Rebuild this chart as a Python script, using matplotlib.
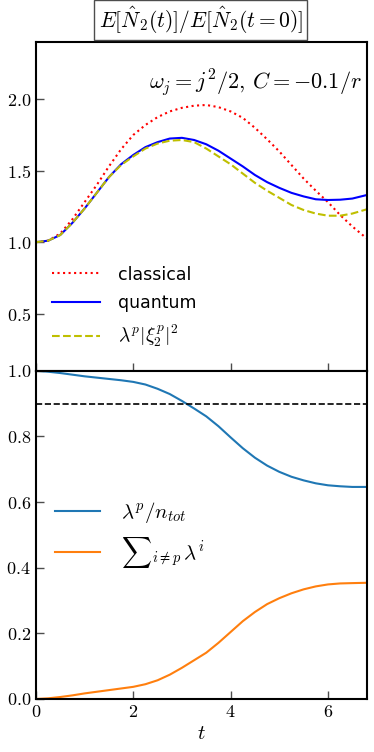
import matplotlib
matplotlib.use('Agg')
import matplotlib.pyplot as plt

plt.rcParams['mathtext.fontset'] = 'cm'
plt.rcParams['font.family'] = 'serif'
plt.rcParams['font.serif'] = ['cmr10']
plt.rcParams['axes.formatter.use_mathtext'] = True

# time grid
t = [0.0, 0.25, 0.5, 0.75, 1.0, 1.25, 1.5, 1.75, 2.0, 2.25, 2.5, 2.75, 3.0, 3.25,
     3.5, 3.75, 4.0, 4.25, 4.5, 4.75, 5.0, 5.25, 5.5, 5.75, 6.0, 6.25, 6.5, 6.8]

classical = [1.00, 1.01, 1.06, 1.16, 1.28, 1.40, 1.53, 1.65, 1.75, 1.82, 1.875, 1.915, 1.94, 1.955,
             1.96, 1.945, 1.915, 1.87, 1.80, 1.72, 1.635, 1.54, 1.445, 1.36, 1.28, 1.19, 1.11, 1.025]
quantum = [1.00, 1.01, 1.05, 1.135, 1.235, 1.345, 1.455, 1.545, 1.61, 1.665, 1.70, 1.725, 1.73, 1.715,
           1.685, 1.64, 1.585, 1.53, 1.47, 1.42, 1.38, 1.345, 1.32, 1.30, 1.295, 1.297, 1.305, 1.33]
lam_xi = [1.00, 1.01, 1.05, 1.135, 1.235, 1.345, 1.455, 1.54, 1.60, 1.655, 1.69, 1.71, 1.715, 1.70,
          1.655, 1.60, 1.545, 1.48, 1.415, 1.36, 1.31, 1.26, 1.225, 1.20, 1.185, 1.185, 1.20, 1.23]

lam_frac = [1.0, 0.997, 0.993, 0.988, 0.983, 0.979, 0.975, 0.971, 0.966, 0.958, 0.945, 0.929, 0.908, 0.885,
            0.861, 0.831, 0.797, 0.764, 0.735, 0.711, 0.692, 0.677, 0.666, 0.657, 0.651, 0.648, 0.646, 0.646]
lam_rest = [0.0, 0.002, 0.006, 0.011, 0.017, 0.022, 0.027, 0.032, 0.037, 0.045, 0.057, 0.074, 0.095, 0.118,
            0.141, 0.171, 0.204, 0.237, 0.265, 0.289, 0.307, 0.322, 0.334, 0.343, 0.349, 0.352, 0.353, 0.354]

fig = plt.figure(figsize=(3.74, 7.52), dpi=100)
ax1 = fig.add_axes([0.096, 0.507, 0.885, 0.437])
ax2 = fig.add_axes([0.096, 0.0705, 0.885, 0.4365])

ax1.plot(t, classical, 'r:', lw=1.5, label='classical')
ax1.plot(t, quantum, 'b-', lw=1.5, label='quantum')
ax1.plot(t, lam_xi, '--', color='y', lw=1.5, label=r'$\lambda^p|\xi_2^p|^2$')
ax1.set_xlim(0, 6.8)
ax1.set_ylim(0.1, 2.4)
ax1.set_yticks([0.5, 1.0, 1.5, 2.0])
ax1.set_xticks([0, 2, 4, 6])
ax1.tick_params(labelbottom=False)
ax1.text(0.985, 0.878, r'$\omega_j = j^2/2$, $C = -0.1/r$', transform=ax1.transAxes,
         ha='right', va='center', fontsize=16)
leg1 = ax1.legend(loc='lower left', bbox_to_anchor=(0.0, 0.02), frameon=False,
                  handlelength=2.8, handletextpad=1.0, labelspacing=0.6,
                  prop={'family': 'DejaVu Sans', 'size': 12.5})
leg1.get_texts()[2].set_fontsize(14)

ax2.plot(t, lam_frac, color='C0', lw=1.5, label=r'$\lambda^p/n_{tot}$')
ax2.plot(t, lam_rest, color='C1', lw=1.5, label=r'${\sum}_{i\neq p}\,\lambda^i$')
ax2.axhline(0.9, color='k', ls='--', lw=1.2)
ax2.set_xlim(0, 6.8)
ax2.set_ylim(0, 1.0)
ax2.set_xticks([0, 2, 4, 6])
ax2.set_yticks([0.0, 0.2, 0.4, 0.6, 0.8, 1.0])
ax2.set_xlabel('$t$', fontsize=15, labelpad=4)
ax2.legend(loc='center left', bbox_to_anchor=(0.0, 0.5), frameon=False, fontsize=15,
           handlelength=2.2, handletextpad=1.0, labelspacing=0.45)

for ax in (ax1, ax2):
    ax.tick_params(direction='in', length=6, width=1, color='0.3', labelsize=13,
                   top=False, right=False)
    for s in ax.spines.values():
        s.set_linewidth(1.5)

fig.text(0.537, 0.973, r'$E[\hat{N}_2(t)]/E[\hat{N}_2(t=0)]$', ha='center', va='center',
         fontsize=15.5, bbox=dict(boxstyle='square,pad=0.2', fc='white', ec='0.3', lw=1))

fig.savefig('out.png', dpi=100)
